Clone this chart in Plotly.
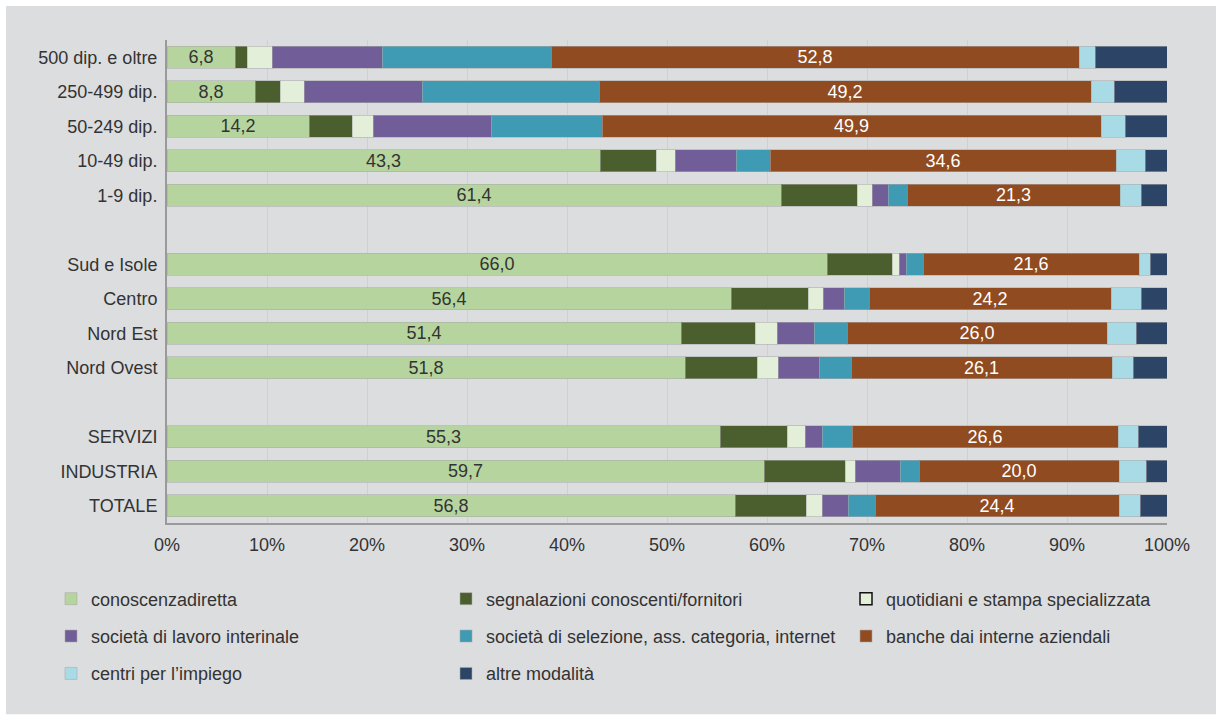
import plotly.graph_objects as go

# Row categories, top to bottom, with blank spacer rows between groups
rows = ["500 dip. e oltre", "250-499 dip.", "50-249 dip.", "10-49 dip.", "1-9 dip.",
        " ",
        "Sud e Isole", "Centro", "Nord Est", "Nord Ovest",
        "  ",
        "SERVIZI", "INDUSTRIA", "TOTALE"]

# Percent shares per recruitment channel (None on spacer rows)
conoscenza_diretta = [6.8, 8.8, 14.2, 43.3, 61.4, None, 66.0, 56.4, 51.4, 51.8, None, 55.3, 59.7, 56.8]
segnalazioni = [1.2, 2.5, 4.3, 5.6, 7.6, None, 6.5, 7.7, 7.4, 7.2, None, 6.7, 8.1, 7.1]
quotidiani = [2.5, 2.4, 2.1, 1.9, 1.5, None, 0.7, 1.5, 2.2, 2.1, None, 1.8, 1.0, 1.6]
lavoro_interinale = [11.0, 11.8, 11.8, 6.1, 1.6, None, 0.7, 2.1, 3.7, 4.1, None, 1.7, 4.5, 2.6]
selezione = [16.9, 17.7, 11.1, 3.4, 1.9, None, 1.7, 2.5, 3.3, 3.2, None, 3.0, 1.9, 2.7]
banche_dati = [52.8, 49.2, 49.9, 34.6, 21.3, None, 21.6, 24.2, 26.0, 26.1, None, 26.6, 20.0, 24.4]
centri_impiego = [1.6, 2.3, 2.4, 2.9, 2.1, None, 1.1, 3.0, 2.9, 2.1, None, 2.0, 2.7, 2.1]
altre = [7.2, 5.3, 4.2, 2.2, 2.6, None, 1.7, 2.6, 3.1, 3.4, None, 2.9, 2.1, 2.7]

x_ticks = [0, 10, 20, 30, 40, 50, 60, 70, 80, 90, 100]
x_tick_labels = ["0%", "10%", "20%", "30%", "40%", "50%", "60%", "70%", "80%", "90%", "100%"]

# name, values, colour, labelled?, label colour, legend column, rank in column
series = [
    ("conoscenzadiretta", conoscenza_diretta, "#b6d59e", True, "#333333", "legend", 1),
    ("segnalazioni conoscenti/fornitori", segnalazioni, "#4b5f2e", False, None, "legend2", 1),
    ("quotidiani e stampa specializzata", quotidiani, "#e3efd8", False, None, "legend3", 1),
    ("società di lavoro interinale", lavoro_interinale, "#715d98", False, None, "legend", 2),
    ("società di selezione, ass. categoria, internet", selezione, "#3f9ab3", False, None, "legend2", 2),
    ("banche dai interne aziendali", banche_dati, "#914b21", True, "#ffffff", "legend3", 2),
    ("centri per l’impiego", centri_impiego, "#a8dbe6", False, None, "legend", 3),
    ("altre modalità", altre, "#2c4566", False, None, "legend2", 3),
]

FONT = "Liberation Sans, Arial, sans-serif"
fig = go.Figure()

for name, vals, color, labelled, tcolor, leg, rank in series:
    text = [("" if v is None else f"{v:.1f}".replace(".", ",")) for v in vals] if labelled else None
    is_quot = name.startswith("quotidiani")
    fig.add_trace(go.Bar(
        y=rows, x=vals, name=name, orientation="h",
        marker=dict(color=color, line=dict(color="rgba(170,170,170,0.55)", width=1)),
        text=text, textposition="inside" if labelled else "none",
        insidetextanchor="middle", textangle=0, constraintext="none",
        textfont=dict(family=FONT, size=18, color=tcolor or "#333333"),
        showlegend=not is_quot, legend=leg, legendgroup=name, legendrank=rank,
        hoverinfo="skip",
    ))
    if is_quot:
        # legend-only entry with an outlined swatch
        fig.add_trace(go.Bar(
            y=[rows[0]], x=[None], name=name, orientation="h",
            marker=dict(color=color, line=dict(color="#111111", width=1.5)),
            showlegend=True, legend=leg, legendgroup=name, legendrank=rank,
            hoverinfo="skip",
        ))

W, H = 1223, 720
ML, MR, MT, MB = 167, 56, 40, 196.5
pw, ph = W - ML - MR, H - MT - MB


def px_x(p):
    return (p - ML) / pw


def px_y(p):
    return (H - MB - p) / ph


# grey panel behind the whole chart
fig.add_shape(type="rect", xref="paper", yref="paper", layer="below",
              x0=px_x(6), x1=px_x(1216), y0=px_y(715), y1=px_y(6),
              fillcolor="#dcdddf", line=dict(width=0))

legend_common = dict(orientation="v", xanchor="left", yanchor="top",
                     traceorder="grouped", tracegroupgap=11,
                     font=dict(family=FONT, size=18, color="#333333"),
                     bgcolor="rgba(0,0,0,0)")
LEG_TOP = 581

fig.update_layout(
    width=W, height=H,
    margin=dict(l=ML, r=MR, t=MT, b=MB),
    paper_bgcolor="#ffffff", plot_bgcolor="rgba(0,0,0,0)",
    barmode="stack", bargap=0.36,
    font=dict(family=FONT, size=18, color="#333333"),
    legend=dict(x=px_x(51), y=px_y(LEG_TOP), **legend_common),
    legend2=dict(x=px_x(446), y=px_y(LEG_TOP), **legend_common),
    legend3=dict(x=px_x(846), y=px_y(LEG_TOP), **legend_common),
    xaxis=dict(range=[0, 100], tickvals=x_ticks, ticktext=x_tick_labels,
               showgrid=True, gridcolor="#cfd0d2", gridwidth=1,
               showline=True, linecolor="#9a9a9a", linewidth=2,
               zeroline=False, ticks="outside", ticklen=4, tickcolor="rgba(0,0,0,0)",
               tickfont=dict(family=FONT, size=18, color="#333333")),
    yaxis=dict(categoryorder="array", categoryarray=rows, autorange=False,
               range=[len(rows) - 0.5, -0.5], type="category",
               showline=True, linecolor="#9a9a9a", linewidth=2,
               showgrid=False, ticks="outside", ticklen=4, tickcolor="rgba(0,0,0,0)",
               tickfont=dict(family=FONT, size=18, color="#333333")),
)

fig.write_html("out.html")
